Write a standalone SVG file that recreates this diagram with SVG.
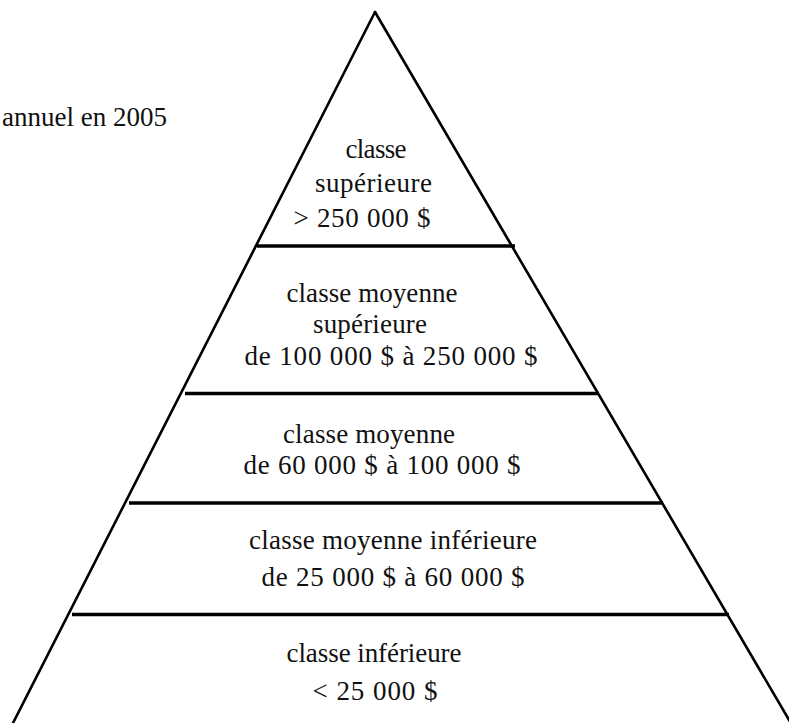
<svg xmlns="http://www.w3.org/2000/svg" width="789" height="723" viewBox="0 0 789 723">
<style>
.side{stroke:#000;stroke-width:2.6;fill:none;stroke-linecap:round}
.tier{stroke:#000;stroke-width:3.5;fill:none}
text{font-family:"Liberation Serif","Times New Roman",serif;font-size:27px;fill:#111;text-anchor:middle}
</style>
<rect width="789" height="723" fill="#fff"/>
<text x="167" y="126" style="text-anchor:end">annuel en 2005</text>
<g id="connectors">
<line class="side" x1="375" y1="12" x2="12" y2="725"/>
<line class="side" x1="375" y1="12" x2="792" y2="725"/>
<line class="tier" x1="257" y1="246" x2="515" y2="246"/>
<line class="tier" x1="185" y1="393.5" x2="599" y2="393.5"/>
<line class="tier" x1="129" y1="503" x2="663" y2="503"/>
<line class="tier" x1="72" y1="614.5" x2="729" y2="614.5"/>
</g>
<g id="tier1">
<text x="376" y="158" textLength="61">classe</text>
<text x="373.5" y="192" textLength="117">supérieure</text>
<text x="362" y="227" textLength="137">&gt; 250 000 $</text>
</g>
<g id="tier2">
<text x="372" y="302" textLength="171">classe moyenne</text>
<text x="370" y="333" textLength="114">supérieure</text>
<text x="391" y="365" textLength="293">de 100 000 $ à 250 000 $</text>
</g>
<g id="tier3">
<text x="369" y="443" textLength="172">classe moyenne</text>
<text x="382" y="474" textLength="277">de 60 000 $ à 100 000 $</text>
</g>
<g id="tier4">
<text x="393" y="549" textLength="288">classe moyenne inférieure</text>
<text x="393" y="586" textLength="263">de 25 000 $ à 60 000 $</text>
</g>
<g id="tier5">
<text x="374" y="662" textLength="175">classe inférieure</text>
<text x="375" y="700" textLength="125">&lt; 25 000 $</text>
</g>
</svg>
